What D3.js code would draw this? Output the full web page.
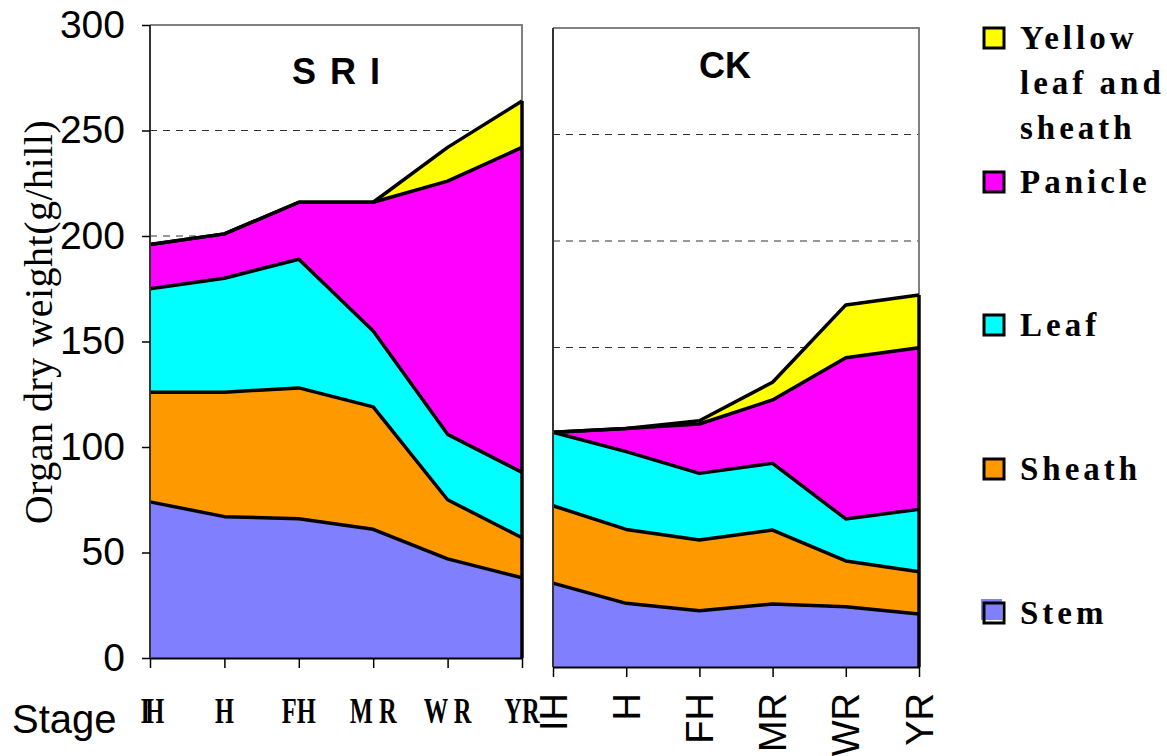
<!DOCTYPE html>
<meta charset="utf-8">
<style>
body { margin: 0; background: #fff; }
.tick line { stroke: #000; }
.ytick text { font: 39px "Liberation Sans Narrow", "Liberation Sans", Arial, sans-serif; }
.legend text { font: bold 33px "Liberation Serif", "Times New Roman", serif; letter-spacing: 4px; }
.title { font: bold 36px "Liberation Sans", Arial, sans-serif; text-anchor: middle; }
</style>
<svg width="1167" height="756"></svg>
<script src="https://cdn.jsdelivr.net/npm/d3@7"></script>
<script>

var stages = ["IH", "H", "FH", "MR", "WR", "YR"];
var sriLabels = ["IH", "H", "FH", "M R", "W R", "YR"];
var yTicks = [0, 50, 100, 150, 200, 250, 300];
var keys = ["stem", "sheath", "leaf", "panicle", "yellow"];
var names = ["Stem", "Sheath", "Leaf", "Panicle", "Yellow leaf and sheath"];

// SRI
var sriStem    = [74, 67, 66, 61, 47, 38];
var sriSheath  = [52, 59, 62, 58, 28, 19];
var sriLeaf    = [49, 54, 61, 36, 31, 31];
var sriPanicle = [21, 21, 27, 61, 120, 154];
var sriYellow  = [0, 0, 0, 0, 16, 22];

// CK
var ckStem    = [39.4, 29.9, 26.4, 29.6, 28.3, 24.9];
var ckSheath  = [36.3, 34.7, 33.2, 34.7, 21.5, 19.8];
var ckLeaf    = [34.5, 36.5, 31.3, 31.3, 19.7, 29.3];
var ckPanicle = [0, 10.9, 23.2, 29.8, 75.7, 75.9];
var ckYellow  = [0, 0, 1.5, 8.3, 24.8, 24.7];

var color = d3.scaleOrdinal()
    .domain(keys)
    .range(["#8080ff", "#ff9900", "#00ffff", "#ff00ff", "#ffff00"]);

var svg = d3.select("svg");

function table(a, b, c, d, e) {
  return stages.map(function(s, i) {
    return {stage: s, stem: a[i], sheath: b[i], leaf: c[i], panicle: d[i], yellow: e[i]};
  });
}

var stack = d3.stack().keys(keys);

function panel(rows, x0, x1, yTop, yBot, opts) {
  var x = d3.scalePoint().domain(stages).range([x0, x1]);
  var y = d3.scaleLinear().domain([0, 300]).range([yBot, yTop]);
  var g = svg.append("g");

  // grid
  g.selectAll(".grid")
    .data(yTicks.filter(function(t) { return t > 0 && t < 300; }))
    .enter().append("line")
      .attr("x1", x0).attr("x2", x1)
      .attr("y1", function(d) { return y(d); })
      .attr("y2", function(d) { return y(d); })
      .attr("stroke", "#333")
      .attr("stroke-dasharray", "7,6");

  // frame
  g.append("path")
      .attr("d", "M" + x0 + "," + y(300) + "H" + x1 + "V" + y(0))
      .attr("fill", "none")
      .attr("stroke", "#808080")
      .attr("stroke-width", 2);

  var area = d3.area()
      .x(function(d) { return x(d.data.stage); })
      .y0(function(d) { return y(d[0]); })
      .y1(function(d) { return y(d[1]); });

  var line = d3.line()
      .x(function(d) { return x(d.data.stage); })
      .y(function(d) { return y(d[1]); });

  var layers = stack(rows);

  g.selectAll(".layer")
    .data(layers)
    .enter().append("path")
      .attr("fill", function(d) { return color(d.key); })
      .attr("d", area);

  g.selectAll(".edge")
    .data(layers)
    .enter().append("path")
      .attr("fill", "none")
      .attr("stroke", "#000")
      .attr("stroke-width", 3.5)
      .attr("stroke-linejoin", "round")
      .attr("d", line);

  // right edge of the stacked areas
  var last = layers[layers.length - 1][stages.length - 1];
  g.append("line")
      .attr("x1", x1).attr("x2", x1)
      .attr("y1", y(0)).attr("y2", y(last[1]))
      .attr("stroke", "#000").attr("stroke-width", 3.5);

  // left axis line
  g.append("line")
      .attr("x1", x0).attr("x2", x0)
      .attr("y1", y(300)).attr("y2", y(0))
      .attr("stroke", "#333").attr("stroke-width", 2);

  // bottom axis
  var xa = g.append("g")
      .attr("transform", "translate(0," + y(0) + ")")
      .call(d3.axisBottom(x).tickSize(10).tickSizeOuter(0).tickFormat(""));
  xa.select(".domain").attr("stroke", "#000").attr("stroke-width", 2);
  xa.selectAll(".tick line").attr("stroke-width", 1.5);

  if (opts.yAxis) {
    var ya = g.append("g")
        .attr("class", "ytick")
        .attr("transform", "translate(" + x0 + ",0)")
        .call(d3.axisLeft(y).tickValues(yTicks).tickSize(8).tickPadding(17));
    ya.select(".domain").remove();
    ya.selectAll(".tick line").attr("stroke-width", 1.5);
  }

  g.append("text")
      .attr("class", "title")
      .attr("x", opts.titleX)
      .attr("y", opts.titleY)
      .style("letter-spacing", opts.titleSpacing)
      .text(opts.title);

  return x;
}

var xs = panel(table(sriStem, sriSheath, sriLeaf, sriPanicle, sriYellow),
    150, 522, 25, 658,
    {yAxis: true, title: "S R I", titleX: 337, titleY: 84, titleSpacing: "2px"});

var xc = panel(table(ckStem, ckSheath, ckLeaf, ckPanicle, ckYellow),
    553, 919, 28, 667,
    {yAxis: false, title: "CK", titleX: 725, titleY: 78, titleSpacing: "0px"});

// SRI stage labels (narrow serif)
svg.append("g").selectAll("text")
  .data(stages)
  .enter().append("text")
    .attr("transform", function(d) { return "translate(" + xs(d) + ",723) scale(0.68,1)"; })
    .attr("text-anchor", "middle")
    .style("font", "bold 36px 'Liberation Serif', 'Times New Roman', serif")
    .style("letter-spacing", function(d, i) { return i === 0 ? "-7px" : "0px"; })
    .text(function(d, i) { return sriLabels[i]; });

// CK stage labels (rotated)
svg.append("g").selectAll("text")
  .data(stages)
  .enter().append("text")
    .attr("transform", function(d) { return "translate(" + xc(d) + ",693) rotate(-90)"; })
    .attr("text-anchor", "end")
    .attr("dy", "0.36em")
    .style("font", "38px 'Liberation Sans', Arial, sans-serif")
    .text(function(d) { return d; });

svg.append("text")
    .attr("x", 12)
    .attr("y", 733)
    .style("font", "40px 'Liberation Sans', Arial, sans-serif")
    .text("Stage");

svg.append("text")
    .attr("transform", "translate(52,322) rotate(-90)")
    .attr("text-anchor", "middle")
    .style("font", "40px 'Liberation Serif', 'Times New Roman', serif")
    .style("letter-spacing", "0.5px")
    .text("Organ dry weight(g/hill)");

// legend
var legendRows = [
  {key: "yellow", lines: ["Yellow", "leaf and", "sheath"], y: 28},
  {key: "panicle", lines: ["Panicle"], y: 172},
  {key: "leaf", lines: ["Leaf"], y: 315},
  {key: "sheath", lines: ["Sheath"], y: 459},
  {key: "stem", lines: ["Stem"], y: 603}
];

var lg = svg.append("g").attr("class", "legend");
var item = lg.selectAll("g")
  .data(legendRows)
  .enter().append("g")
    .attr("transform", function(d) { return "translate(984," + d.y + ")"; });

item.filter(function(d) { return d.key === "stem"; })
  .append("rect")
    .attr("x", -3).attr("y", -4)
    .attr("width", 21).attr("height", 21)
    .attr("fill", color("stem"));

item.append("rect")
    .attr("width", 20).attr("height", 20)
    .attr("fill", function(d) { return d.key === "stem" ? "none" : color(d.key); })
    .attr("stroke", "#000")
    .attr("stroke-width", 3);

item.selectAll("text")
  .data(function(d) { return d.lines; })
  .enter().append("text")
    .attr("x", 36)
    .attr("y", function(d, i) { return 21 + i * 45; })
    .text(function(d) { return d; });

</script>
